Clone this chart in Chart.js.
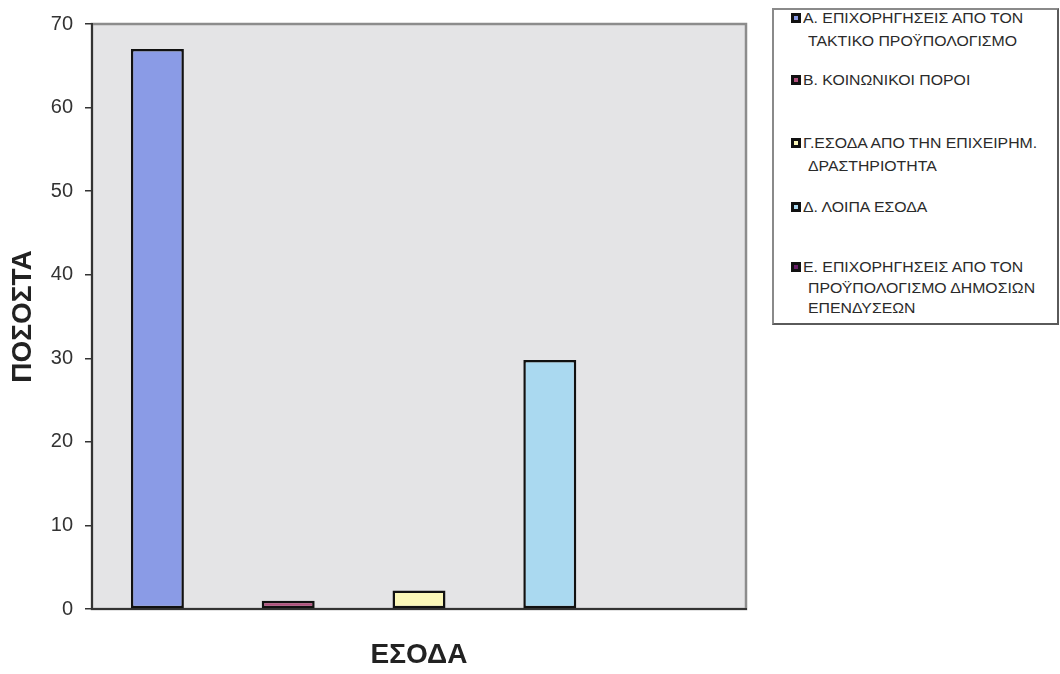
<!DOCTYPE html>
<html lang="el">
<head>
<meta charset="utf-8">
<title>ΕΣΟΔΑ</title>
<script src="https://cdn.jsdelivr.net/npm/chart.js@4.4.1/dist/chart.umd.min.js"></script>
<style>
  html, body { margin: 0; padding: 0; background: #ffffff; }
  #wrap { position: relative; width: 1060px; height: 674px; }
  #chart { position: absolute; left: 0; top: 0; }
  #legend {
    position: absolute; left: 772px; top: 8px; width: 283px; height: 313px;
    border: 2px solid #5a5a5a; border-left-color: #8a8a8a; border-top-color: #8a8a8a;
    background: #ffffff; box-sizing: content-box;
    font-family: "Liberation Sans", Arial, sans-serif; font-size: 14px; color: #2a2a2a;
  }
  .entry { position: absolute; left: 0; }
  .mark {
    position: absolute; left: 17px; top: 3px; width: 4px; height: 4px;
    border: 3px solid #111;
  }
  .line {
    position: absolute; white-space: nowrap; height: 16px; line-height: 16px;
    transform: scaleX(1.13); transform-origin: 0 50%;
  }
</style>
</head>
<body>
<div id="wrap">
  <canvas id="chart" width="1060" height="674"></canvas>
  <div id="legend"></div>
</div>
<script>
// Revenue shares (%) by source
const category = [''];
const seriesNames = [
  ['Α. ΕΠΙΧΟΡΗΓΗΣΕΙΣ ΑΠΟ ΤΟΝ', 'ΤΑΚΤΙΚΟ ΠΡΟΫΠΟΛΟΓΙΣΜΟ'],
  ['Β. ΚΟΙΝΩΝΙΚΟΙ ΠΟΡΟΙ'],
  ['Γ.ΕΣΟΔΑ ΑΠΟ ΤΗΝ ΕΠΙΧΕΙΡΗΜ.', 'ΔΡΑΣΤΗΡΙΟΤΗΤΑ'],
  ['Δ. ΛΟΙΠΑ ΕΣΟΔΑ'],
  ['Ε. ΕΠΙΧΟΡΗΓΗΣΕΙΣ ΑΠΟ ΤΟΝ', 'ΠΡΟΫΠΟΛΟΓΙΣΜΟ ΔΗΜΟΣΙΩΝ', 'ΕΠΕΝΔΥΣΕΩΝ']
];
const seriesValues = [67.0, 1.0, 2.2, 29.8, 0];
const seriesColors = ['#8a9be6', '#b0507d', '#fbf7b8', '#aad9f0', '#6a1f6a'];
const yTicks = [0, 10, 20, 30, 40, 50, 60, 70];
const yTitle = 'ΠΟΣΟΣΤΑ';
const xTitle = 'ΕΣΟΔΑ';

// Legend layout (first-line positions inside the box)
const legendTops = [0, 62, 125, 189, 249];
const legendLineSteps = [23, 21, 23, 21, 20.5];

const FONT = '"Liberation Sans", Arial, sans-serif';

const plotBackground = {
  id: 'plotBackground',
  beforeDraw(chart) {
    const { ctx, chartArea: a } = chart;
    ctx.save();
    ctx.fillStyle = '#e4e4e6';
    ctx.fillRect(a.left, a.top, a.right - a.left, a.bottom - a.top);
    ctx.strokeStyle = '#8c8c8c';
    ctx.lineWidth = 2.5;
    ctx.strokeRect(a.left, a.top, a.right - a.left, a.bottom - a.top);
    ctx.restore();
  }
};

const datasets = seriesValues.map((v, i) => ({
  label: seriesNames[i].join(' '),
  data: [v],
  backgroundColor: seriesColors[i],
  borderColor: '#111111',
  borderWidth: 2.5,
  borderSkipped: false,
  categoryPercentage: 1.0,
  barPercentage: 0.405
}));

new Chart(document.getElementById('chart'), {
  type: 'bar',
  data: { labels: category, datasets },
  options: {
    responsive: false,
    animation: false,
    layout: { padding: { top: 12, right: 314, left: 0, bottom: 0 } },
    plugins: { legend: { display: false }, tooltip: { enabled: false } },
    scales: {
      x: {
        ticks: { display: false },
        grid: { display: false, drawTicks: false },
        border: { color: '#333333', width: 2 },
        title: {
          display: true, text: xTitle, color: '#222222',
          font: { family: FONT, size: 28, weight: 'bold' },
          padding: { top: 0, bottom: 2 }
        },
        afterFit(scale) { scale.height = 65; }
      },
      y: {
        min: 0, max: 70,
        afterBuildTicks(scale) { scale.ticks = yTicks.map(v => ({ value: v })); },
        ticks: {
          color: '#333333', padding: 12,
          font: { family: FONT, size: 20 }
        },
        grid: { drawOnChartArea: false, drawTicks: true, tickLength: 7, color: '#333333', lineWidth: 1.5 },
        border: { color: '#333333', width: 2 },
        title: {
          display: true, text: yTitle, color: '#222222',
          font: { family: FONT, size: 28, weight: 'bold' },
          padding: { top: 6, bottom: 0 }
        },
        afterFit(scale) { scale.width = 92; }
      }
    }
  },
  plugins: [plotBackground]
});

// Legend built from the same series arrays
const legend = document.getElementById('legend');
seriesNames.forEach((lines, i) => {
  const entry = document.createElement('div');
  entry.className = 'entry';
  entry.style.top = legendTops[i] + 'px';
  const mark = document.createElement('div');
  mark.className = 'mark';
  mark.style.background = seriesColors[i];
  entry.appendChild(mark);
  lines.forEach((t, j) => {
    const s = document.createElement('div');
    s.className = 'line';
    s.textContent = t;
    s.style.left = (j === 0 ? 29 : 34) + 'px';
    s.style.top = (j * legendLineSteps[i]) + 'px';
    entry.appendChild(s);
  });
  legend.appendChild(entry);
});
</script>
</body>
</html>
